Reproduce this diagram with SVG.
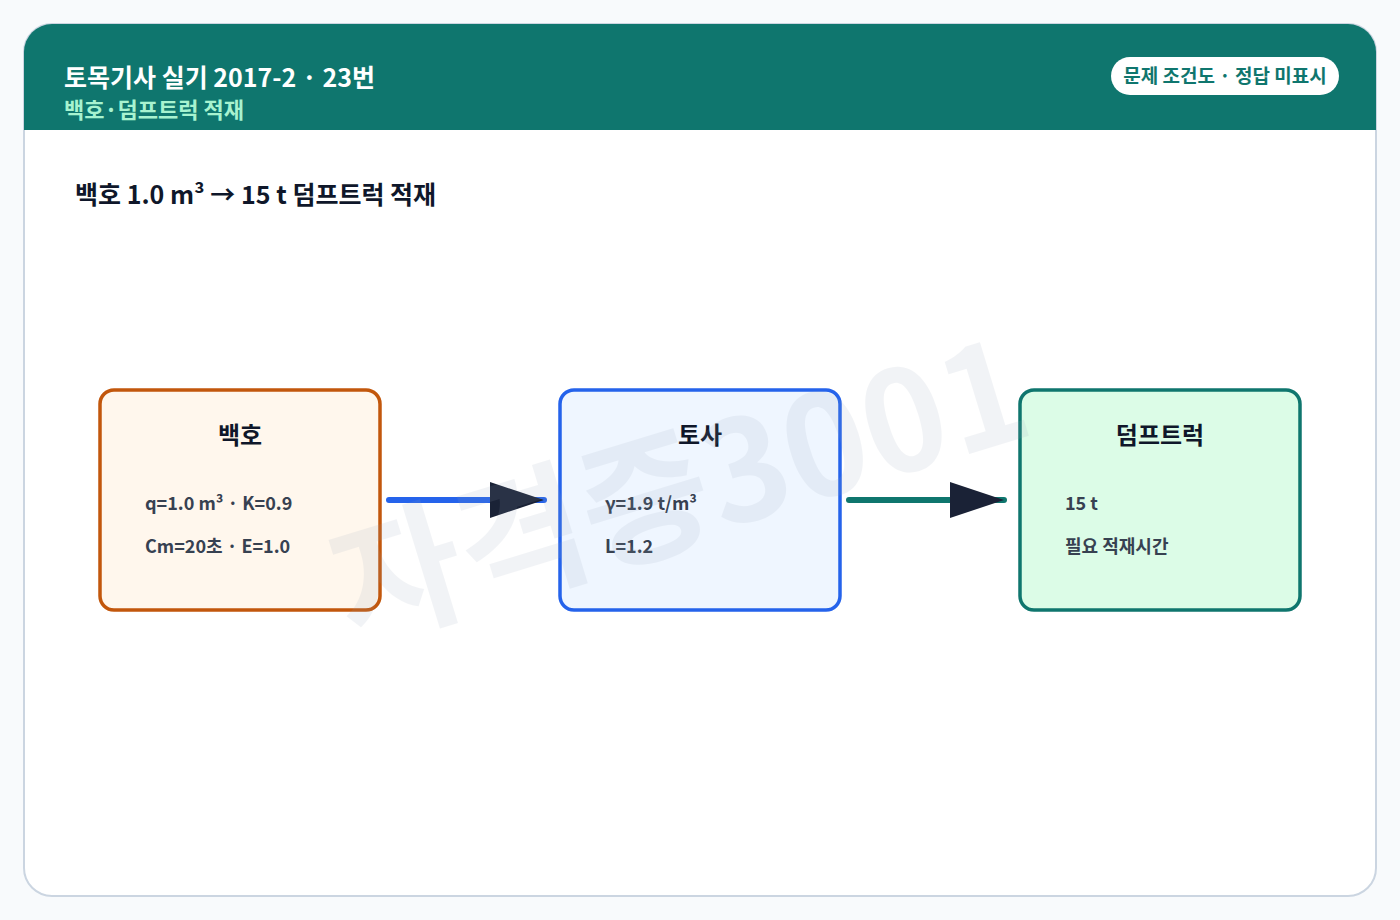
<svg xmlns="http://www.w3.org/2000/svg" width="1400" height="920" viewBox="0 0 1400 920">
<defs>
<style>
text{font-family:"Noto Sans CJK KR","Noto Sans",sans-serif;font-weight:700}
.t{font-size:24px;fill:#0f172a;text-anchor:middle}
.s{font-size:18px;fill:#374151}
.node rect{stroke-width:3.5}
</style>
<marker id="ah" viewBox="0 0 10 10" refX="10" refY="5" markerWidth="54" markerHeight="36" markerUnits="userSpaceOnUse" orient="auto" preserveAspectRatio="none"><path d="M0,0 L10,5 L0,10 Z" fill="#1a2236"/></marker>
</defs>
<rect width="1400" height="920" fill="#f8fafc"/>
<rect x="24" y="24" width="1352" height="872" rx="28" fill="#fff" stroke="#cbd5e1" stroke-width="2"/>
<path d="M24,130 V52 A28,28 0 0 1 52,24 H1348 A28,28 0 0 1 1376,52 V130 Z" fill="#0f766e"/>
<text x="64" y="87" font-size="25" fill="#fff">토목기사 실기 2017-2 · 23번</text>
<text x="64" y="118" font-size="22" fill="#a7f3d0">백호·덤프트럭 적재</text>
<rect x="1111" y="57" width="228" height="38" rx="19" fill="#fff"/>
<text x="1225" y="83" font-size="19" fill="#0f766e" text-anchor="middle">문제 조건도 · 정답 미표시</text>
<text x="75" y="204" font-size="25" fill="#0f172a">백호 1.0 m³ → 15 t 덤프트럭 적재</text>
<g id="connectors">
<line x1="389" y1="500" x2="544" y2="500" stroke="#2563eb" stroke-width="6" stroke-linecap="round" marker-end="url(#ah)"/>
<line x1="849" y1="500" x2="1004" y2="500" stroke="#0f766e" stroke-width="6" stroke-linecap="round" marker-end="url(#ah)"/>
</g>
<g id="backhoe" class="node">
<rect x="100" y="390" width="280" height="220" rx="14" fill="#fff7ed" stroke="#c2570c"/>
<text class="t" x="240" y="444">백호</text>
<text class="s" x="145" y="510">q=1.0 m³ · K=0.9</text>
<text class="s" x="145" y="553">Cm=20초 · E=1.0</text>
</g>
<g id="soil" class="node">
<rect x="560" y="390" width="280" height="220" rx="14" fill="#eff6ff" stroke="#2563eb"/>
<text class="t" x="700" y="444">토사</text>
<text class="s" x="605" y="510">γ=1.9 t/m³</text>
<text class="s" x="605" y="553">L=1.2</text>
</g>
<g id="dumptruck" class="node">
<rect x="1020" y="390" width="280" height="220" rx="14" fill="#dcfce7" stroke="#0f766e"/>
<text class="t" x="1160" y="444">덤프트럭</text>
<text class="s" x="1065" y="510">15 t</text>
<text class="s" x="1065" y="553">필요 적재시간</text>
</g>
<text x="680" y="540" font-size="140" fill="#94a3b8" opacity="0.12" text-anchor="middle" transform="rotate(-17 680 490)">자격증3001</text>
</svg>
